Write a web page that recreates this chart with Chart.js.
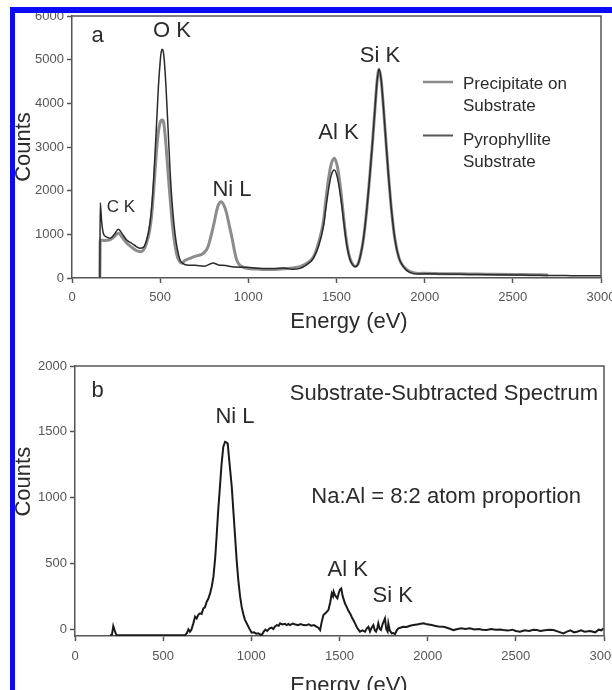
<!DOCTYPE html>
<html>
<head>
<meta charset="utf-8">
<script src="https://cdn.jsdelivr.net/npm/chart.js@4.4.1/dist/chart.umd.min.js"></script>
<style>
  html, body { margin: 0; padding: 0; background: #fff; }
  body { width: 612px; height: 690px; position: relative; overflow: hidden; }
  canvas { position: absolute; left: 0; }
  #chartA { top: 0; }
  #chartB { top: 345px; }
  .blue { position: absolute; background: #0b0bf5; z-index: 5; }
</style>
</head>
<body>
<canvas id="chartA" width="612" height="345"></canvas>
<canvas id="chartB" width="612" height="345"></canvas>
<div class="blue" style="left:10px; top:7px; width:602px; height:6px;"></div>
<div class="blue" style="left:10px; top:7px; width:5px; height:683px;"></div>
<script>
// Panel a: precipitate on substrate (grey line)
const precipEnergy = [158, 160, 185, 216, 240, 263, 285, 310, 340, 365, 386, 405, 423, 440, 452, 462, 471, 481, 490, 500, 506, 512, 518, 522, 533, 545, 556, 570, 584, 598, 610, 622, 640, 669, 700, 745, 770, 792, 808, 821, 833, 845, 860, 877, 892, 906, 920, 934, 950, 970, 991, 1050, 1100, 1150, 1200, 1250, 1293, 1330, 1369, 1400, 1426, 1440, 1454, 1470, 1488, 1505, 1520, 1535, 1549, 1563, 1577, 1592, 1605, 1620, 1636, 1652, 1670, 1690, 1705, 1719, 1730, 1741, 1753, 1766, 1780, 1794, 1812, 1832, 1855, 1879, 1905, 1936, 1970, 2000, 2100, 2200, 2300, 2400, 2500, 2600, 2700];
const precipCounts = [0, 870, 860, 880, 950, 1023, 930, 800, 700, 630, 603, 640, 800, 1080, 1450, 1950, 2450, 3000, 3350, 3560, 3610, 3618, 3590, 3500, 3050, 2400, 1850, 1200, 750, 480, 380, 340, 400, 450, 500, 565, 700, 1023, 1300, 1557, 1700, 1748, 1680, 1481, 1200, 946, 650, 412, 300, 250, 222, 205, 195, 195, 210, 230, 260, 330, 480, 830, 1300, 1800, 2250, 2600, 2741, 2550, 2150, 1600, 1080, 680, 440, 310, 265, 305, 520, 870, 1500, 2397, 3150, 3923, 4500, 4779, 4550, 3923, 3150, 2397, 1550, 870, 450, 270, 170, 120, 105, 110, 100, 95, 90, 85, 80, 75, 70];

// Panel a: pyrophyllite substrate (dark line)
const pyroEnergy = [158, 160, 168, 178, 195, 216, 240, 263, 285, 310, 340, 365, 386, 405, 423, 440, 452, 462, 471, 481, 490, 500, 506, 512, 518, 524, 533, 545, 556, 570, 584, 598, 613, 630, 650, 700, 750, 800, 830, 870, 920, 991, 1050, 1100, 1150, 1200, 1250, 1293, 1330, 1369, 1400, 1426, 1440, 1454, 1470, 1488, 1505, 1520, 1535, 1549, 1563, 1577, 1592, 1605, 1620, 1636, 1652, 1670, 1690, 1705, 1719, 1730, 1741, 1753, 1766, 1780, 1794, 1812, 1832, 1855, 1879, 1905, 1936, 1970, 2000, 2100, 2200, 2300, 2400, 2500, 2600, 2700, 2800, 2900, 3000];
const pyroCounts = [0, 1724, 1300, 1020, 940, 910, 1000, 1115, 1010, 870, 790, 720, 680, 700, 870, 1200, 1633, 2200, 2855, 3650, 4380, 4950, 5180, 5237, 5180, 4950, 4380, 3400, 2473, 1600, 1023, 650, 412, 330, 298, 290, 270, 343, 300, 285, 250, 245, 225, 215, 215, 230, 200, 220, 300, 450, 750, 1175, 1600, 2000, 2350, 2473, 2300, 1950, 1500, 1023, 650, 420, 300, 260, 300, 520, 870, 1500, 2397, 3150, 3923, 4500, 4779, 4550, 3923, 3150, 2397, 1550, 870, 450, 259, 150, 100, 90, 95, 90, 85, 80, 75, 70, 65, 60, 55, 50, 50];

// Panel b: substrate-subtracted spectrum
const subEnergy = [200, 210, 217, 225, 235, 400, 624, 635, 643, 652, 660, 671, 681, 690, 700, 709, 718, 728, 737, 747, 756, 766, 775, 785, 795, 803, 812, 822, 831, 841, 851, 858, 866, 877, 889, 898, 908, 917, 926, 936, 945, 955, 964, 974, 988, 1002, 1015, 1028, 1040, 1050, 1059, 1070, 1080, 1090, 1104, 1115, 1125, 1133, 1145, 1155, 1163, 1175, 1190, 1200, 1210, 1220, 1235, 1250, 1265, 1280, 1295, 1310, 1325, 1340, 1355, 1371, 1380, 1390, 1400, 1409, 1420, 1437, 1447, 1456, 1463, 1467, 1475, 1488, 1497, 1503, 1510, 1518, 1525, 1531, 1540, 1550, 1560, 1570, 1580, 1588, 1600, 1616, 1630, 1645, 1655, 1664, 1673, 1682, 1692, 1700, 1707, 1715, 1720, 1728, 1735, 1745, 1758, 1765, 1773, 1777, 1785, 1796, 1805, 1815, 1825, 1834, 1845, 1862, 1880, 1900, 1919, 1940, 1960, 1976, 1990, 2005, 2023, 2040, 2060, 2089, 2110, 2130, 2146, 2170, 2190, 2215, 2240, 2265, 2290, 2310, 2335, 2360, 2385, 2410, 2429, 2455, 2480, 2500, 2524, 2550, 2575, 2600, 2619, 2640, 2665, 2690, 2713, 2740, 2770, 2790, 2810, 2830, 2846, 2870, 2890, 2921, 2950, 2970, 2985, 2997];
const subCounts = [-48, -40, 23, -10, -48, -48, -48, -30, -2, -20, -5, 43, 94, 80, 110, 119, 115, 157, 165, 208, 230, 271, 320, 398, 540, 702, 900, 1082, 1250, 1386, 1424, 1420, 1410, 1250, 1082, 900, 702, 520, 373, 250, 170, 110, 70, 43, 5, -28, -25, -35, -33, -40, -46, -20, -5, -15, 5, 10, 0, 17, 30, 25, 43, 35, 40, 30, 38, 30, 42, 35, 30, 38, 30, 28, 35, 25, 30, 17, 10, -8, 60, 106, 120, 144, 200, 271, 250, 284, 255, 233, 280, 300, 309, 250, 220, 195, 170, 140, 119, 90, 65, 43, 10, -20, -10, -20, 5, 17, -20, 10, 30, -10, -20, 10, 43, 0, -8, 40, 81, 0, -20, 43, -10, -33, -30, -38, -10, 5, 10, 17, 15, 25, 30, 35, 40, 43, 38, 35, 30, 25, 20, 17, 10, 0, -8, 0, 5, 0, 5, -3, 0, -5, -8, 0, -5, -3, -8, -12, -5, -15, -20, -10, -15, -5, -8, -15, -10, -5, -8, -20, -33, -20, -10, -25, -20, -10, -20, -15, -25, -5, -10, 5];

// Tick labels
const energyTicks = [0, 500, 1000, 1500, 2000, 2500, 3000];
const countTicksA = [0, 1000, 2000, 3000, 4000, 5000, 6000];
const countTicksB = [0, 500, 1000, 1500, 2000];

const FONT = '"Liberation Sans", Arial, Helvetica, sans-serif';
const AXIS = '#555';
const TEXT = '#2b2b2b';

function toPoints(xs, ys) {
    return xs.map((x, i) => ({ x: x, y: ys[i] }));
}

// Draws the box around the plot, the annotations and the axis titles
function notesPlugin(notes) {
    return {
        id: 'notes',
        afterDraw(chart) {
            const ctx = chart.ctx;
            const a = chart.chartArea;
            ctx.save();
            ctx.strokeStyle = AXIS;
            ctx.lineWidth = 1.5;
            ctx.beginPath();
            ctx.moveTo(a.left, a.top);
            ctx.lineTo(a.right, a.top);
            ctx.lineTo(a.right, a.bottom);
            ctx.stroke();

            ctx.fillStyle = TEXT;
            notes.forEach(n => {
                ctx.font = (n.size || 22) + 'px ' + FONT;
                ctx.textAlign = n.align || 'center';
                ctx.textBaseline = 'alphabetic';
                if (n.rotate) {
                    ctx.save();
                    ctx.translate(n.x, n.y);
                    ctx.rotate(-Math.PI / 2);
                    ctx.fillText(n.text, 0, 0);
                    ctx.restore();
                } else {
                    ctx.fillText(n.text, n.x, n.y);
                }
            });

            (notes.legend || []).forEach(l => {
                ctx.strokeStyle = l.color;
                ctx.lineWidth = l.width;
                ctx.beginPath();
                ctx.moveTo(423, l.y);
                ctx.lineTo(453, l.y);
                ctx.stroke();
            });
            ctx.restore();
        }
    };
}

function makeOptions(yMin, yMax, yTicks, xHeight, yWidth, pad, xPad) {
    return {
        responsive: false,
        animation: false,
        devicePixelRatio: 1,
        layout: { padding: pad },
        elements: { point: { radius: 0 } },
        plugins: { legend: { display: false }, tooltip: { enabled: false } },
        scales: {
            x: {
                type: 'linear',
                min: 0,
                max: 3000,
                afterBuildTicks: s => { s.ticks = energyTicks.map(v => ({ value: v })); },
                afterFit: s => { s.height = xHeight; s.paddingLeft = 0; s.paddingRight = 0; },
                ticks: { color: AXIS, font: { family: FONT, size: 13 }, padding: xPad, maxRotation: 0, autoSkip: false,
                         callback: v => String(v) },
                grid: { drawOnChartArea: false, drawTicks: true, tickLength: 5, tickColor: AXIS, tickWidth: 1.5 },
                border: { color: AXIS, width: 1.5 }
            },
            y: {
                min: yMin,
                max: yMax,
                afterBuildTicks: s => { s.ticks = yTicks.map(v => ({ value: v })); },
                afterFit: s => { s.width = yWidth; s.paddingTop = 0; s.paddingBottom = 0; },
                ticks: { color: AXIS, font: { family: FONT, size: 13 }, padding: 3, autoSkip: false,
                         callback: v => String(v) },
                grid: { drawOnChartArea: false, drawTicks: true, tickLength: 5, tickColor: AXIS, tickWidth: 1.5 },
                border: { color: AXIS, width: 1.5 }
            }
        }
    };
}

// Panel a
const notesA = [
    { text: 'a', x: 91.5, y: 42, align: 'left' },
    { text: 'O K', x: 172, y: 36.5 },
    { text: 'C K', x: 121, y: 211.5, size: 17 },
    { text: 'Ni L', x: 232, y: 196 },
    { text: 'Al K', x: 338.5, y: 138.5 },
    { text: 'Si K', x: 380, y: 61.5 },
    { text: 'Precipitate on', x: 463, y: 89, align: 'left', size: 17 },
    { text: 'Substrate', x: 463, y: 111, align: 'left', size: 17 },
    { text: 'Pyrophyllite', x: 463, y: 144.5, align: 'left', size: 17 },
    { text: 'Substrate', x: 463, y: 166.5, align: 'left', size: 17 },
    { text: 'Counts', x: 30, y: 147, rotate: true },
    { text: 'Energy (eV)', x: 349, y: 327.5 }
];
notesA.legend = [
    { y: 82, color: '#8a8a8a', width: 2.5 },
    { y: 135.5, color: '#555', width: 2 }
];

new Chart(document.getElementById('chartA').getContext('2d'), {
    type: 'line',
    data: {
        datasets: [
            {
                label: 'Pyrophyllite Substrate',
                data: toPoints(pyroEnergy, pyroCounts),
                borderColor: '#2a2a2a',
                borderWidth: 1.5,
                cubicInterpolationMode: 'monotone',
                fill: false,
                order: 0
            },
            {
                label: 'Precipitate on Substrate',
                data: toPoints(precipEnergy, precipCounts),
                borderColor: '#8c8c8c',
                borderWidth: 3,
                cubicInterpolationMode: 'monotone',
                fill: false,
                order: 1
            }
        ]
    },
    options: makeOptions(0, 6000, countTicksA, 67, 72, { top: 16, right: 11, left: 0, bottom: 0 }, 7),
    plugins: [notesPlugin(notesA)]
});

// Panel b
const notesB = [
    { text: 'b', x: 91.5, y: 51.5, align: 'left' },
    { text: 'Ni L', x: 235, y: 78.3 },
    { text: 'Substrate-Subtracted Spectrum', x: 598, y: 55, align: 'right' },
    { text: 'Na:Al = 8:2 atom proportion', x: 581, y: 158.3, align: 'right' },
    { text: 'Al K', x: 347.7, y: 230.7 },
    { text: 'Si K', x: 392.7, y: 257.3 },
    { text: 'Counts', x: 30, y: 136.7, rotate: true },
    { text: 'Energy (eV)', x: 349, y: 347 }
];

new Chart(document.getElementById('chartB').getContext('2d'), {
    type: 'line',
    data: {
        datasets: [
            {
                label: 'Substrate-Subtracted Spectrum',
                data: toPoints(subEnergy, subCounts),
                borderColor: '#1a1a1a',
                borderWidth: 2,
                tension: 0,
                fill: false
            }
        ]
    },
    options: makeOptions(-53, 2000, countTicksB, 54, 75, { top: 21, right: 8, left: 0, bottom: 0 }, 8),
    plugins: [notesPlugin(notesB)]
});
</script>
</body>
</html>
